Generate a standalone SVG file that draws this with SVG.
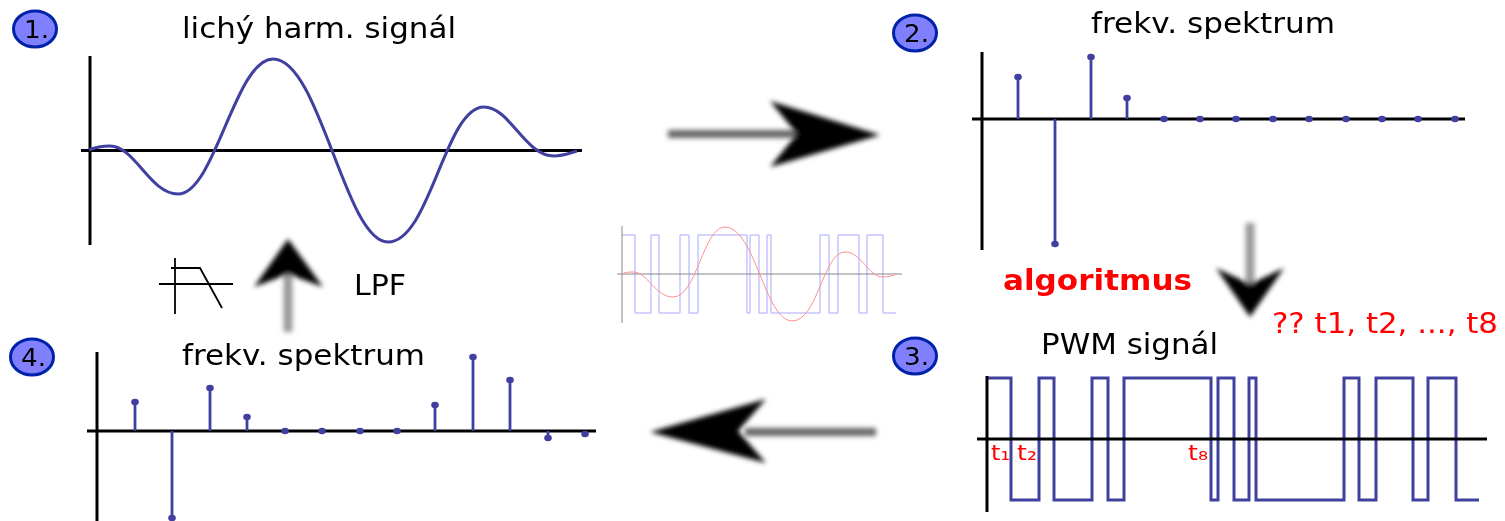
<svg xmlns="http://www.w3.org/2000/svg" width="1505" height="521" viewBox="0 0 1505 521">
<style>
text{font-family:"DejaVu Sans",sans-serif;fill:#000}
.t{font-size:29px}
.n{font-size:25px}
.r{fill:#f00}
.ax{stroke:#000;stroke-width:3;fill:none}
.sig{stroke:#4040a0;stroke-width:3;fill:none}
.stem{stroke:#4040a0;stroke-width:2.800;fill:none}
.dot{fill:#4040a0}
.badge{fill:#8080ff;stroke:#0020a8;stroke-width:3}
.thin{stroke:#000;stroke-width:1.800;fill:none}
.soft{filter:url(#soft)}
.head{fill:#000}
.hs{fill:#666}
.vs{fill:#999}
</style>
<defs>
<filter id="soft" x="-5%" y="-5%" width="110%" height="110%"><feGaussianBlur stdDeviation="0.5"/></filter>
<filter id="center" x="-5%" y="-5%" width="110%" height="110%"><feGaussianBlur stdDeviation="0.45"/></filter>
<filter id="blur" x="-20%" y="-20%" width="140%" height="140%"><feGaussianBlur stdDeviation="2.600"/></filter>
</defs>

<g id="node-1" class="soft">
<ellipse class="badge" cx="35" cy="29" rx="21.500" ry="18"/>
<text class="n" x="24" y="38" textLength="25" lengthAdjust="spacingAndGlyphs">1.</text>
<text class="t" x="182" y="38" textLength="274" lengthAdjust="spacingAndGlyphs">lichý harm. signál</text>
<path class="ax" d="M90 56V245M81 150.500H582"/>
<path class="sig" d="M89 150C96 147 102 146 110 146C135 146 150 194 178 194C215 194 235 59 273 59C320 59 345 242 388 242C430 242 445 107 484 107C510 107 525 156 554 156C562 156 570 153 577 151"/>
</g>

<g id="node-2" class="soft">
<ellipse class="badge" cx="915" cy="33" rx="21.500" ry="18"/>
<text class="n" x="904" y="42" textLength="25" lengthAdjust="spacingAndGlyphs">2.</text>
<text class="t" x="1091" y="33" textLength="244" lengthAdjust="spacingAndGlyphs">frekv. spektrum</text>
<path class="ax" d="M982 52V250M972 119H1465"/>
<path class="stem" d="M1018 119V77M1055 119V244M1091 119V57M1127 119V98"/>
<g class="dot">
<ellipse cx="1018" cy="77" rx="3.800" ry="3.200"/><ellipse cx="1055" cy="244" rx="3.800" ry="3.200"/><ellipse cx="1091" cy="57" rx="3.800" ry="3.200"/><ellipse cx="1127" cy="98" rx="3.800" ry="3.200"/>
<ellipse cx="1164" cy="119" rx="3.800" ry="3.200"/><ellipse cx="1200" cy="119" rx="3.800" ry="3.200"/><ellipse cx="1236" cy="119" rx="3.800" ry="3.200"/><ellipse cx="1273" cy="119" rx="3.800" ry="3.200"/><ellipse cx="1309" cy="119" rx="3.800" ry="3.200"/><ellipse cx="1346" cy="119" rx="3.800" ry="3.200"/><ellipse cx="1382" cy="119" rx="3.800" ry="3.200"/><ellipse cx="1418" cy="119" rx="3.800" ry="3.200"/><ellipse cx="1455" cy="119" rx="3.800" ry="3.200"/>
</g>
</g>

<g id="node-3" class="soft">
<ellipse class="badge" cx="915" cy="356" rx="21.500" ry="18"/>
<text class="n" x="904" y="365" textLength="25" lengthAdjust="spacingAndGlyphs">3.</text>
<text class="t" x="1041" y="354" textLength="177" lengthAdjust="spacingAndGlyphs">PWM signál</text>
<path class="sig" d="M987 378H1011V500H1039V378H1054V500H1092V378H1108V500H1124V378H1211V500H1218V378H1234V500H1249V378H1256V500H1344V378H1359V500H1376V378H1413V500H1428V378H1456V500H1479"/>
<path class="ax" d="M987 376V512M977 439H1487"/>
<text class="r" x="991" y="460" font-size="22" textLength="19" lengthAdjust="spacingAndGlyphs">t₁</text>
<text class="r" x="1017" y="460" font-size="22" textLength="20" lengthAdjust="spacingAndGlyphs">t₂</text>
<text class="r" x="1188" y="460" font-size="22" textLength="20" lengthAdjust="spacingAndGlyphs">t₈</text>
</g>

<g id="node-4" class="soft">
<ellipse class="badge" cx="32" cy="357" rx="21.500" ry="18"/>
<text class="n" x="21" y="366" textLength="25" lengthAdjust="spacingAndGlyphs">4.</text>
<text class="t" x="182" y="365" textLength="243" lengthAdjust="spacingAndGlyphs">frekv. spektrum</text>
<path class="ax" d="M97 352V521M87 431H596"/>
<path class="stem" d="M135 431V402M172 431V518M210 431V388M247 431V417M435 431V405M473 431V357M510 431V380M548 431V438M585 431V434"/>
<g class="dot">
<ellipse cx="135" cy="402" rx="3.800" ry="3.200"/><ellipse cx="172" cy="518" rx="3.800" ry="3.200"/><ellipse cx="210" cy="388" rx="3.800" ry="3.200"/><ellipse cx="247" cy="417" rx="3.800" ry="3.200"/>
<ellipse cx="285" cy="431" rx="3.800" ry="3.200"/><ellipse cx="322" cy="431" rx="3.800" ry="3.200"/><ellipse cx="360" cy="431" rx="3.800" ry="3.200"/><ellipse cx="397" cy="431" rx="3.800" ry="3.200"/>
<ellipse cx="435" cy="405" rx="3.800" ry="3.200"/><ellipse cx="473" cy="357" rx="3.800" ry="3.200"/><ellipse cx="510" cy="380" rx="3.800" ry="3.200"/><ellipse cx="548" cy="438" rx="3.800" ry="3.200"/><ellipse cx="585" cy="434" rx="3.800" ry="3.200"/>
</g>
</g>

<g id="node-lpf" class="soft">
<path class="thin" d="M175 258V314M159 284H233M171 268H200L222 308"/>
<text class="t" x="354" y="295" textLength="52" lengthAdjust="spacingAndGlyphs">LPF</text>
</g>

<g id="node-algoritmus" class="soft">
<text class="r" x="1003" y="290" font-size="29" font-weight="700" textLength="189" lengthAdjust="spacingAndGlyphs">algoritmus</text>
<text class="r" x="1272" y="333" font-size="29" textLength="226" lengthAdjust="spacingAndGlyphs">?? t1, t2, ..., t8</text>
</g>

<g id="node-center" fill="none" filter="url(#center)">
<path stroke="#a8a8ff" stroke-width="1" d="M622 235H635V313H651V235H659V313H680V235H689V313H698V235H747V313H750V235H759V313H767V235H771V313H820V235H829V313H838V235H859V313H867V235H883V313H896"/>
<path stroke="#888" stroke-width="1" d="M622 226V323M617 274H902"/>
<path stroke="#ff9090" stroke-width="1" d="M622 274C626 272 629 272 633 272C648 272 655 297 673 297C697 297 703 227 725 227C755 227 765 321 792 321C818 321 823 252 845 252C862 252 868 277 883 277C888 277 892 276 897 274"/>
</g>

<g id="connectors" filter="url(#blur)">
<rect class="hs" x="668" y="130" width="130" height="8"/>
<path class="head" d="M880 135L770 101L797 134L770 167Z"/>
<rect class="hs" x="745" y="428" width="131" height="8"/>
<path class="head" d="M650 432L766 399L738 431L766 463Z"/>
<rect class="vs" x="1245.500" y="223" width="9" height="65"/>
<path class="head" d="M1250 317L1216 268L1250 284L1284 268Z"/>
<rect class="vs" x="283.500" y="270" width="9" height="62"/>
<path class="head" d="M288 239L254 287L288 274L323 287Z"/>
</g>
</svg>
